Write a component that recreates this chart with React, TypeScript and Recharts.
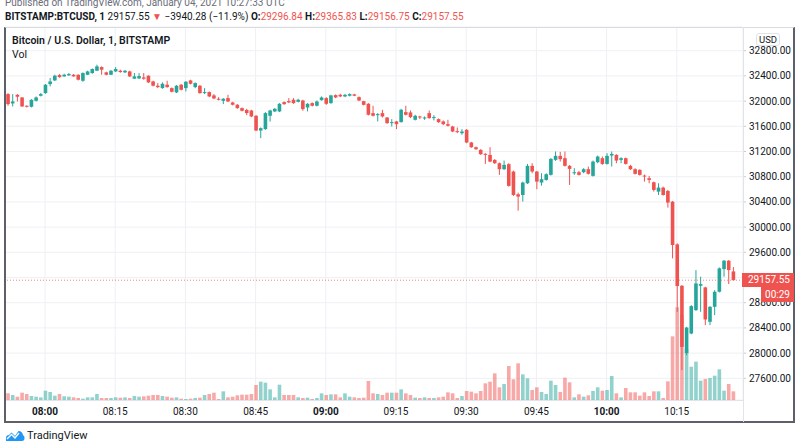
import React from 'react'
import { ComposedChart, Bar, Cell, XAxis, YAxis, CartesianGrid, ReferenceLine } from 'recharts'

// one candle per minute, first one at 07:52
const FIRST_MINUTE = 7 * 60 + 52
const TIME_LABELS = ['08:00', '08:15', '08:30', '08:45', '09:00', '09:15', '09:30', '09:45', '10:00', '10:15']
const PRICE_TICKS = [27600, 28000, 28400, 28800, 29200, 29600, 30000, 30400, 30800, 31200, 31600, 32000, 32400, 32800]

const opens = [
  32111, 31963, 32100, 32058, 31926, 31910, 32005, 32085, 32127, 32270,
  32328, 32413, 32392, 32408, 32418, 32418, 32323, 32418, 32445, 32482,
  32540, 32456, 32418, 32471, 32482, 32456, 32471, 32355, 32360, 32376,
  32403, 32312, 32244, 32206, 32260, 32206, 32138, 32260, 32206, 32328,
  32222, 32244, 32132, 32143, 32090, 32037, 32005, 32048, 31978, 31942,
  31889, 31860, 31851, 31767, 31533, 31555, 31767, 31836, 31836, 31984,
  32000, 32021, 31989, 32010, 31899, 31968, 31926, 32016, 32047, 31968,
  32095, 32100, 32074, 32085, 32106, 32063, 31999, 31957, 31809, 31777,
  31809, 31740, 31650, 31677, 31666, 31825, 31820, 31703, 31756, 31724,
  31809, 31730, 31714, 31677, 31634, 31597, 31523, 31491, 31544, 31343,
  31268, 31226, 31163, 31146, 31067, 31014, 30919, 30999, 30882, 30521,
  30510, 30696, 30972, 30882, 30707, 30749, 30829, 31067, 31131, 31094,
  30972, 30855, 30871, 30871, 30919, 30813, 31030, 31094, 31003, 31136,
  31146, 31067, 31094, 30972, 30919, 30908, 30818, 30776, 30712, 30563,
  30627, 30574, 30404, 29726, 29069, 28001, 28311, 28682, 29069, 29043,
  28497, 28735, 28974, 29334, 29467, 29296.84,
]
const highs = [
  32127, 32111, 32111, 32063, 31931, 32031, 32074, 32127, 32270, 32366,
  32419, 32429, 32434, 32445, 32429, 32424, 32456, 32482, 32519, 32578,
  32551, 32466, 32493, 32540, 32498, 32493, 32482, 32445, 32445, 32445,
  32408, 32323, 32286, 32297, 32323, 32217, 32254, 32270, 32318, 32339,
  32297, 32254, 32206, 32153, 32111, 32063, 32047, 32100, 31989, 31952,
  31899, 31878, 31862, 31777, 31581, 31825, 31862, 31889, 31968, 31994,
  32047, 32047, 32037, 32021, 31968, 31979, 32010, 32074, 32063, 32100,
  32106, 32116, 32111, 32122, 32116, 32074, 32005, 31968, 31926, 31809,
  31862, 31746, 31714, 31687, 31878, 31926, 31851, 31783, 31767, 31756,
  31851, 31777, 31724, 31693, 31703, 31608, 31581, 31555, 31555, 31353,
  31279, 31237, 31173, 31268, 31078, 31025, 31056, 31014, 30897, 30547,
  30722, 31003, 31014, 30892, 30855, 30855, 31094, 31200, 31194, 31200,
  30988, 30935, 30892, 30935, 30961, 31056, 31136, 31120, 31173, 31200,
  31157, 31109, 31104, 30988, 30934, 30919, 30834, 30813, 30722, 30696,
  30643, 30590, 30415, 29742, 29080, 28416, 28762, 29318, 29212, 29053,
  28746, 29000, 29360, 29477, 29477, 29365.83,
]
const lows = [
  31926, 31915, 31994, 31910, 31899, 31899, 31994, 32074, 32116, 32233,
  32318, 32371, 32387, 32403, 32387, 32328, 32307, 32413, 32434, 32477,
  32418, 32408, 32413, 32461, 32450, 32445, 32381, 32355, 32350, 32339,
  32286, 32233, 32206, 32196, 32212, 32138, 32127, 32169, 32153, 32265,
  32206, 32116, 32111, 32063, 32031, 32010, 31952, 31984, 31931, 31878,
  31836, 31777, 31746, 31523, 31411, 31544, 31676, 31825, 31825, 31941,
  31968, 31957, 31979, 31846, 31836, 31915, 31915, 32005, 31941, 31957,
  32047, 32063, 32063, 32074, 32079, 31999, 31931, 31772, 31756, 31677,
  31740, 31640, 31597, 31555, 31661, 31772, 31730, 31693, 31714, 31703,
  31719, 31693, 31655, 31618, 31597, 31507, 31491, 31465, 31332, 31258,
  31226, 31146, 31003, 31030, 31003, 30829, 30908, 30643, 30495, 30261,
  30404, 30685, 30855, 30601, 30659, 30738, 30818, 31051, 31040, 30961,
  30669, 30829, 30818, 30855, 30834, 30802, 31014, 30988, 30993, 30961,
  31014, 31014, 30993, 30908, 30834, 30818, 30722, 30696, 30564, 30510,
  30500, 30309, 29504, 28655, 27730, 27966, 28300, 28671, 28656, 28444,
  28444, 28603, 28963, 29212, 29096, 29156.75,
]
const closes = [
  31952, 31994, 32069, 31915, 31910, 32021, 32058, 32111, 32260, 32312,
  32403, 32381, 32418, 32429, 32392, 32339, 32445, 32471, 32509, 32551,
  32498, 32418, 32482, 32509, 32461, 32482, 32392, 32392, 32397, 32355,
  32297, 32244, 32222, 32275, 32222, 32148, 32244, 32180, 32307, 32275,
  32286, 32127, 32143, 32074, 32042, 32021, 32037, 31994, 31942, 31889,
  31846, 31810, 31756, 31533, 31570, 31809, 31851, 31878, 31957, 31952,
  31979, 31968, 32021, 31873, 31957, 31926, 31994, 32058, 31957, 32090,
  32058, 32074, 32100, 32111, 32085, 32010, 31941, 31783, 31767, 31793,
  31756, 31650, 31666, 31634, 31862, 31783, 31746, 31767, 31740, 31740,
  31730, 31746, 31666, 31634, 31608, 31517, 31507, 31517, 31343, 31268,
  31237, 31157, 31157, 31040, 31014, 30919, 30988, 30654, 30510, 30484,
  30707, 30972, 30882, 30722, 30760, 30839, 31083, 31131, 31078, 30972,
  30924, 30871, 30829, 30919, 30845, 31040, 31120, 31003, 31131, 31162,
  31056, 31094, 31003, 30919, 30845, 30829, 30802, 30749, 30590, 30627,
  30510, 30389, 29716, 29064, 28099, 28406, 28746, 29106, 29096, 28534,
  28735, 28974, 29345, 29467, 29318, 29157.55,
]
const volumes = [
  40, 30, 20, 44, 36, 24, 20, 16, 56, 48,
  26, 36, 22, 20, 16, 12, 8, 16, 16, 36,
  12, 12, 12, 16, 14, 16, 12, 24, 20, 22,
  26, 30, 30, 24, 20, 14, 16, 8, 6, 8,
  12, 14, 30, 36, 44, 6, 52, 16, 20, 28,
  32, 32, 36, 90, 110, 104, 64, 16, 92, 30,
  30, 30, 16, 12, 14, 6, 12, 40, 30, 34,
  34, 16, 40, 20, 16, 12, 14, 114, 40, 36,
  30, 44, 44, 44, 64, 40, 30, 14, 12, 16,
  12, 12, 16, 20, 46, 40, 12, 24, 54, 50,
  40, 54, 100, 110, 160, 76, 96, 204, 124, 220,
  154, 130, 60, 76, 48, 36, 116, 90, 48, 134,
  106, 16, 34, 20, 28, 54, 76, 56, 60, 144,
  40, 16, 72, 46, 46, 26, 46, 24, 52, 52,
  12, 112, 382, 556, 510, 306, 200, 230, 116, 126,
  132, 146, 184, 56, 96, 52,
]

const UP = '#26a69a'
const DOWN = '#ef5350'
const UP_VOL = 'rgba(38,166,154,0.5)'
const DOWN_VOL = 'rgba(239,83,80,0.5)'
const TEXT = '#131722'
const FONT = 'Roboto, "Liberation Sans", Arial, sans-serif'

const X_DOMAIN = [471.45, 629.15]
const Y_DOMAIN = [27256, 33176]
const VOL_DOMAIN = [0, 2238]

const toMinutes = (s: string) => {
  const [h, m] = s.split(':').map(Number)
  return h * 60 + m
}
const pad = (n: number) => String(n).padStart(2, '0')
const fmtTime = (v: number) => `${pad(Math.floor(v / 60))}:${pad(v % 60)}`

const rows = opens.map((open, i) => ({
  t: FIRST_MINUTE + i,
  open,
  high: highs[i],
  low: lows[i],
  close: closes[i],
  vol: volumes[i],
}))

const Candle = (props: any) => {
  let { x, y, width, height, payload } = props
  if (height < 0) {
    y += height
    height = -height
  }
  const { open, close, high, low } = payload
  const color = close >= open ? UP : DOWN
  const k = height / (high - low)
  const yo = y + (high - open) * k
  const yc = y + (high - close) * k
  const top = Math.min(yo, yc)
  const bh = Math.max(1, Math.abs(yo - yc))
  const cx = x + width / 2
  return (
    <g>
      <line x1={cx} x2={cx} y1={y} y2={y + height} stroke={color} strokeWidth={1} />
      <rect x={x} y={top} width={width} height={bh} fill={color} />
    </g>
  )
}

const TimeTick = (props: any) => {
  const { x, y, payload } = props
  const label = fmtTime(payload.value)
  const isHour = label.endsWith(':00')
  return (
    <text x={x} y={y} dy="0.71em" textAnchor="middle" fontSize={10} fill={TEXT}
      fontFamily={FONT} fontWeight={isHour ? 700 : 400}>
      {label}
    </text>
  )
}

const red = { color: DOWN }

export default function App() {
  return (
    <div style={{ position: 'absolute', left: 0, top: 0, width: 800, height: 445, background: '#fff', fontFamily: FONT, color: TEXT, overflow: 'hidden' }}>
      <div style={{ position: 'absolute', left: 0, top: 0 }}>
        <ComposedChart width={800} height={445} data={rows} margin={{ top: 27, right: 6, bottom: 23, left: 5 }}>
          <CartesianGrid xAxisId="t" yAxisId="p" stroke="#eef0f4" />
          <XAxis xAxisId="t" type="number" dataKey="t" domain={X_DOMAIN} allowDataOverflow
            ticks={TIME_LABELS.map(toMinutes)} interval={0} height={22}
            axisLine={false} tickLine={false} tick={<TimeTick />} />
          <XAxis xAxisId="v" type="number" dataKey="t" domain={X_DOMAIN} allowDataOverflow hide />
          <YAxis yAxisId="p" orientation="right" width={51} domain={Y_DOMAIN} allowDataOverflow
            ticks={PRICE_TICKS} interval={0} axisLine={false}
            tickLine={{ stroke: '#c9ccd3' }} tickSize={3} tickMargin={3}
            tickFormatter={(v: number) => v.toFixed(2)}
            tick={{ fontSize: 10, fill: TEXT, fontFamily: FONT }} />
          <YAxis yAxisId="vol" domain={VOL_DOMAIN} allowDataOverflow hide />
          <Bar xAxisId="v" yAxisId="vol" dataKey="vol" barSize={3.6} isAnimationActive={false}>
            {rows.map((r, i) => (
              <Cell key={`v-${i}`} fill={r.close >= r.open ? UP_VOL : DOWN_VOL} />
            ))}
          </Bar>
          <ReferenceLine xAxisId="t" yAxisId="p" y={closes[closes.length - 1]} stroke={DOWN}
            strokeOpacity={0.7} strokeDasharray="1 2" />
          <Bar xAxisId="t" yAxisId="p" dataKey={(d: any) => [d.low, d.high]} barSize={3.6}
            isAnimationActive={false} shape={(p: any) => <Candle {...p} />} />
        </ComposedChart>
      </div>

      {/* header */}
      <div style={{ position: 'absolute', left: 5, top: -3, fontSize: 10, color: '#6a6d78', whiteSpace: 'nowrap' }}>
        Published on TradingView.com, January 04, 2021 10:27:33 UTC
      </div>
      <div style={{ position: 'absolute', left: 5, top: 11, fontSize: 10, lineHeight: '12px', whiteSpace: 'nowrap' }}>
        <b>BITSTAMP:BTCUSD, 1</b> 29157.55 <span style={red}>▼</span> −3940.28 (−11.9%){' '}
        <b>O:</b><span style={red}>29296.84</span> <b>H:</b><span style={red}>29365.83</span>{' '}
        <b>L:</b><span style={red}>29156.75</span> <b>C:</b><span style={red}>29157.55</span>
      </div>

      {/* frame */}
      <div style={{ position: 'absolute', left: 4, top: 27, width: 791, height: 396, boxSizing: 'border-box',
        borderTop: '1px solid #d9dbe0', borderLeft: '2px solid #5d6068', borderRight: '2px solid #5d6068', borderBottom: '2px solid #5d6068' }} />
      <div style={{ position: 'absolute', left: 743, top: 27, width: 1, height: 395, background: '#e0e3eb' }} />
      <div style={{ position: 'absolute', left: 6, top: 400, width: 737, height: 1, background: '#e0e3eb' }} />

      {/* legend */}
      <div style={{ position: 'absolute', left: 12, top: 34, fontSize: 10.5, fontWeight: 600, lineHeight: '13px' }}>
        Bitcoin / U.S. Dollar, 1, BITSTAMP
      </div>
      <div style={{ position: 'absolute', left: 12, top: 48, fontSize: 10.5, lineHeight: '13px' }}>Vol</div>

      {/* price scale extras */}
      <div style={{ position: 'absolute', left: 756, top: 33, width: 24, height: 13, boxSizing: 'border-box', background: '#fff',
        border: '1px solid #e0e3eb', borderRadius: 3, fontSize: 9.5, lineHeight: '11px', textAlign: 'center' }}>USD</div>
      <div style={{ position: 'absolute', left: 742, top: 273, width: 52, height: 14, background: DOWN, color: '#fff',
        fontSize: 10, lineHeight: '14px', paddingLeft: 6, boxSizing: 'border-box' }}>29157.55</div>
      <div style={{ position: 'absolute', left: 761, top: 287, width: 33, height: 15, background: DOWN, color: '#fff',
        fontSize: 10, lineHeight: '15px', textAlign: 'center' }}>00:29</div>

      {/* footer logo */}
      <svg style={{ position: 'absolute', left: 5, top: 429 }} width={20} height={13} viewBox="0 0 20 13">
        <path d="M1 12 L1 9 Q1 6 4 6 L6.5 3.5 L10 7 L13.5 2 Q17 2 18 6 Q20 7 19.5 10 Q19 12 17 12 Z" fill="#2196f3" />
        <path d="M2 10 L6.5 5.5 L10 9 L14 4" stroke="#fff" strokeWidth={1.4} fill="none" />
      </svg>
      <div style={{ position: 'absolute', left: 27, top: 429, fontSize: 11, lineHeight: '14px', color: TEXT }}>TradingView</div>
    </div>
  )
}
